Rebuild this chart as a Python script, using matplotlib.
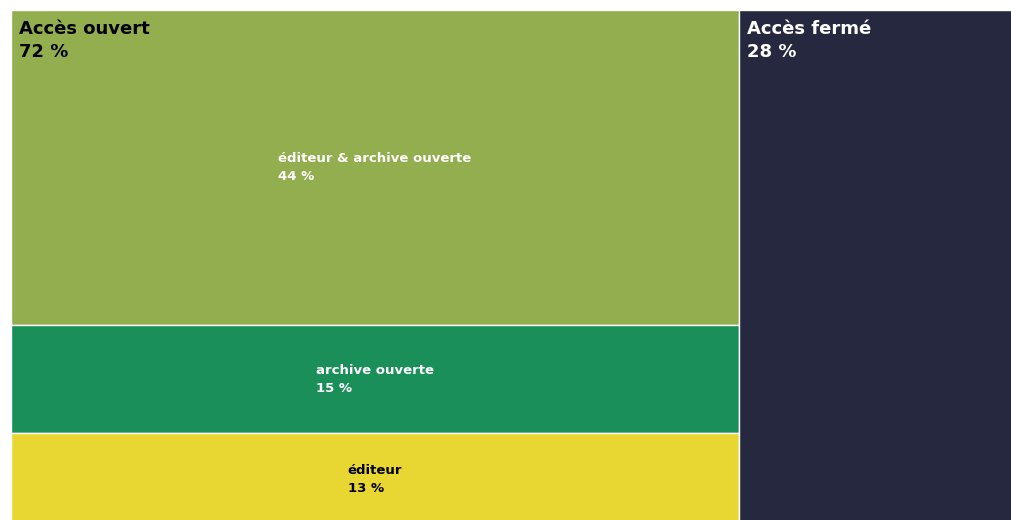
import matplotlib
matplotlib.use("Agg")
import matplotlib.pyplot as plt
from matplotlib.patches import Rectangle

# données
groupes = ["Accès ouvert", "Accès fermé"]
groupes_pct = [72, 28]
groupes_couleurs = ["#93ae4e", "#262840"]
groupes_texte = ["black", "white"]

enfants = ["éditeur & archive ouverte", "archive ouverte", "éditeur"]
enfants_pct = [44, 15, 13]
enfants_couleurs = ["#93ae4e", "#1a8f5a", "#e8d632"]
enfants_texte = ["white", "white", "black"]

W, H = 1011, 520
fig = plt.figure(figsize=(W / 100, H / 100), dpi=100)
ax = fig.add_axes([0, 0, 1, 1])
ax.set_xlim(0, W)
ax.set_ylim(H, 0)
ax.axis("off")

# zone du treemap (le bas et la droite sont coupés dans l'original)
x0, y0, bw, bh = 11, 10, 1011, 516
total = sum(groupes_pct)

x = x0
for g, (nom, pct, col, tc) in enumerate(zip(groupes, groupes_pct,
                                             groupes_couleurs, groupes_texte)):
    w = bw * pct / total
    ax.add_patch(Rectangle((x, y0), w, bh, facecolor=col,
                           edgecolor="white", linewidth=1))
    if g == 0:
        y = y0
        for nom_e, pct_e, col_e, tc_e in zip(enfants, enfants_pct,
                                             enfants_couleurs, enfants_texte):
            h = bh * pct_e / sum(enfants_pct)
            ax.add_patch(Rectangle((x, y), w, h, facecolor=col_e,
                                   edgecolor="white", linewidth=1))
            ax.text(x + w / 2, y + h / 2, f"{nom_e}\n{pct_e} %",
                    ha="center", va="center", multialignment="left",
                    color=tc_e, fontsize=9.5, fontweight="bold",
                    linespacing=1.5)
            y += h
    ax.text(x + 8, y0 + 10, f"{nom}\n{pct} %", ha="left", va="top",
            color=tc, fontsize=13, fontweight="bold", linespacing=1.35)
    x += w

fig.savefig("out.png", dpi=100)
